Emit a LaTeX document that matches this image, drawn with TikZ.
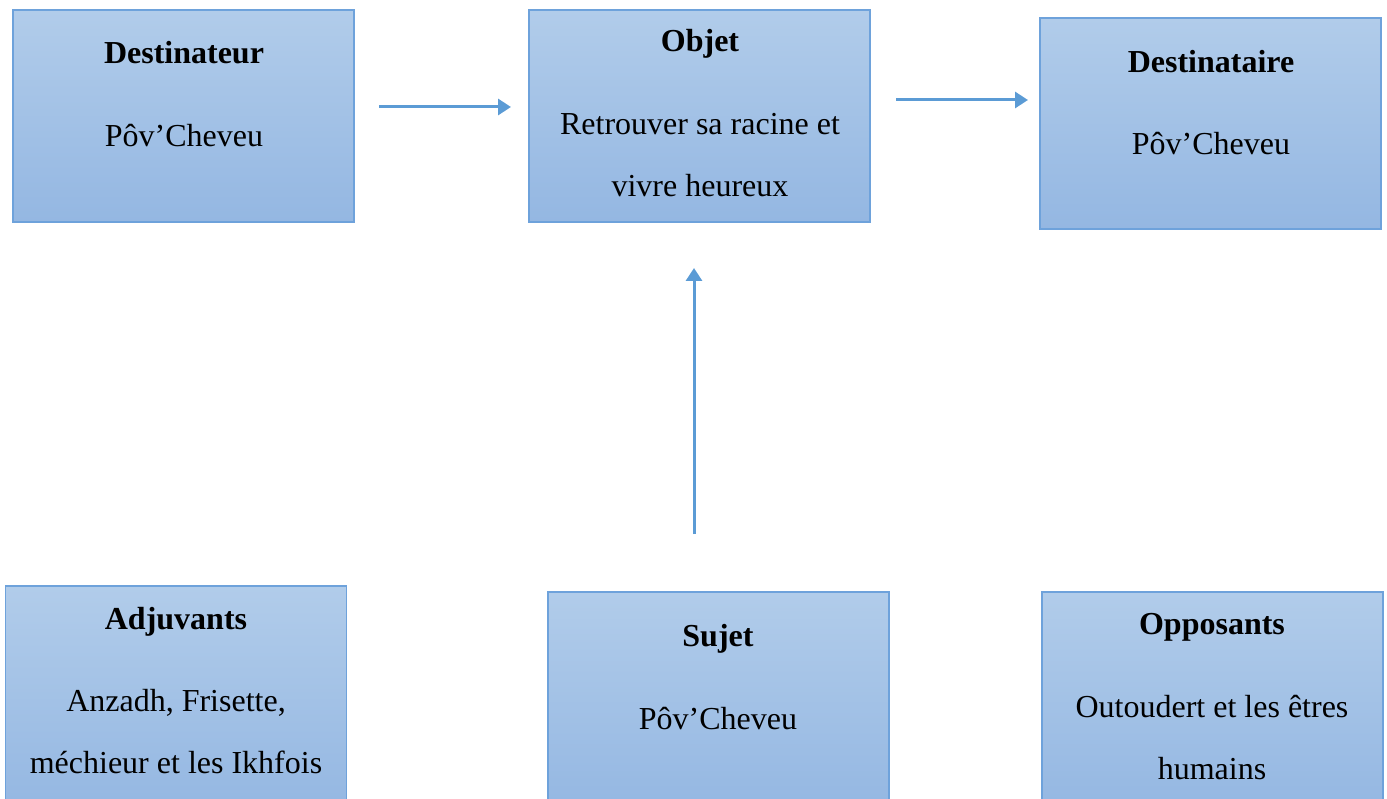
\documentclass[tikz,border=0pt]{standalone}
\usepackage{fontspec}
\setmainfont{Liberation Serif}
\definecolor{boxtop}{HTML}{B1CCEA}
\definecolor{boxbot}{HTML}{94B7E2}
\definecolor{boxline}{HTML}{6EA2DB}
\definecolor{arrowc}{HTML}{5B9BD5}
\tikzset{
  box/.style={draw=boxline, line width=1.2pt, top color=boxtop, bottom color=boxbot, minimum width=341pt, inner sep=0pt},
  txt/.style={anchor=base, inner sep=0pt, font=\fontsize{32}{38}\selectfont},
  ttl/.style={txt, font=\fontsize{32}{38}\selectfont\bfseries},
  conn/.style={draw=arrowc, line width=3pt, -{Triangle[length=13pt,width=16pt]}}
}
\usetikzlibrary{arrows.meta}
\begin{document}
\begin{tikzpicture}[x=1pt,y=-1pt]
\useasboundingbox (0,0) rectangle (1387,799);
\clip (0,0) rectangle (1387,799);
% boxes
\node[box, minimum height=212pt] (destinateur) at (183.5,116) {};
\node[box, minimum height=212pt] (objet) at (699.5,116) {};
\node[box, minimum height=211pt] (destinataire) at (1210.5,123.5) {};
\node[box, minimum height=226pt] (adjuvants) at (176,699) {};
\node[box, minimum height=220pt] (sujet) at (718.5,702) {};
\node[box, minimum height=220pt] (opposants) at (1212.5,702) {};
% texts
\node[ttl] (t1) at (184,64) {Destinateur};
\node[txt] (b1) at (184,147) {Pôv’Cheveu};
\node[ttl] (t2) at (700,52) {Objet};
\node[txt] (b2a) at (700,135) {Retrouver sa racine et};
\node[txt] (b2b) at (700,197) {vivre heureux};
\node[ttl] (t3) at (1211,73) {Destinataire};
\node[txt] (b3) at (1211,155) {Pôv’Cheveu};
\node[ttl] (t4) at (176,629) {Adjuvants};
\node[txt] (b4a) at (176,711) {Anzadh, Frisette,};
\node[txt] (b4b) at (176,773) {méchieur et les Ikhfois};
\node[ttl] (t5) at (718,646) {Sujet};
\node[txt] (b5) at (718,729) {Pôv’Cheveu};
\node[ttl] (t6) at (1212,634) {Opposants};
\node[txt] (b6a) at (1212,717) {Outoudert et les êtres};
\node[txt] (b6b) at (1212,779) {humains};
% arrows
\coordinate (a1s) at (379,107);
\coordinate (a1e) at (511,107);
\coordinate (a2s) at (896,100);
\coordinate (a2e) at (1028,100);
\coordinate (a3s) at (694,534);
\coordinate (a3e) at (694,268);
\draw[conn] (a1s) -- (a1e);
\draw[conn] (a2s) -- (a2e);
\draw[conn] (a3s) -- (a3e);
\end{tikzpicture}
\end{document}
